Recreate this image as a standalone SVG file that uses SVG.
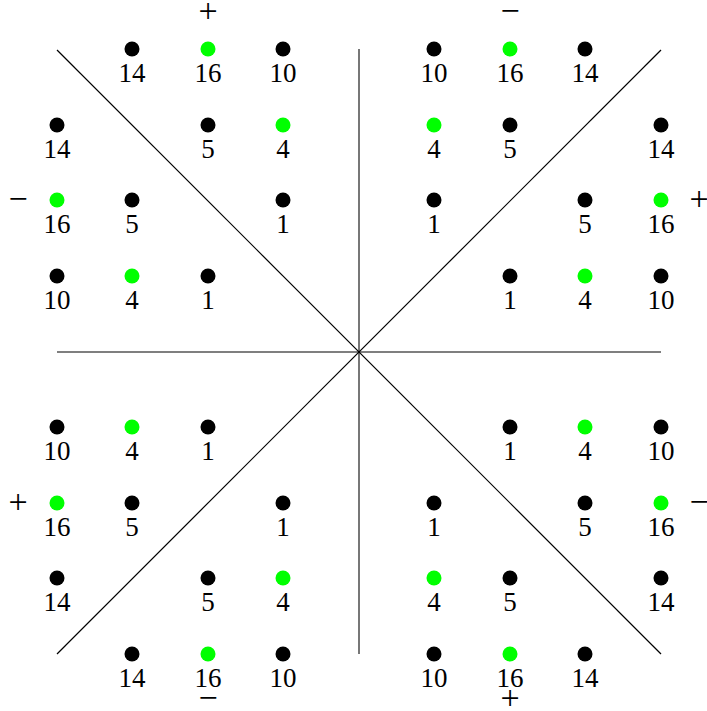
<svg xmlns="http://www.w3.org/2000/svg" width="707" height="711" viewBox="0 0 707 711">
<style>
.b{fill:#000}
.g{fill:#00ff00}
</style>
<g id="connectors" stroke="#000" stroke-width="1.2" fill="none">
<line x1="359" y1="49" x2="359" y2="654" stroke="#555" stroke-width="1.6"/>
<line x1="57" y1="352" x2="661" y2="352"/>
<line x1="57" y1="50" x2="661" y2="654"/>
<line x1="57" y1="654" x2="661" y2="50"/>
</g>
<g font-family="'Liberation Serif', 'DejaVu Serif', serif" font-size="27" fill="#000" text-anchor="middle">
<g id="signs" font-size="34">
<text x="208" y="22">+</text>
<text x="510" y="22">−</text>
<text x="18" y="210">−</text>
<text x="699" y="210">+</text>
<text x="18" y="513">+</text>
<text x="699" y="513">−</text>
<text x="208" y="709">−</text>
<text x="510" y="709">+</text>
</g>
<g id="n1"><circle class="b" cx="132" cy="49" r="7.5"/><text x="132" y="82">14</text></g>
<g id="n2"><circle class="g" cx="208" cy="49" r="7.5"/><text x="208" y="82">16</text></g>
<g id="n3"><circle class="b" cx="283" cy="49" r="7.5"/><text x="283" y="82">10</text></g>
<g id="n4"><circle class="b" cx="57" cy="125" r="7.5"/><text x="57" y="158">14</text></g>
<g id="n5"><circle class="b" cx="208" cy="125" r="7.5"/><text x="208" y="158">5</text></g>
<g id="n6"><circle class="g" cx="283" cy="125" r="7.5"/><text x="283" y="158">4</text></g>
<g id="n7"><circle class="g" cx="57" cy="200" r="7.5"/><text x="57" y="233">16</text></g>
<g id="n8"><circle class="b" cx="132" cy="200" r="7.5"/><text x="132" y="233">5</text></g>
<g id="n9"><circle class="b" cx="283" cy="200" r="7.5"/><text x="283" y="233">1</text></g>
<g id="n10"><circle class="b" cx="57" cy="276" r="7.5"/><text x="57" y="309">10</text></g>
<g id="n11"><circle class="g" cx="132" cy="276" r="7.5"/><text x="132" y="309">4</text></g>
<g id="n12"><circle class="b" cx="208" cy="276" r="7.5"/><text x="208" y="309">1</text></g>

<g id="n13"><circle class="b" cx="434" cy="49" r="7.5"/><text x="434" y="82">10</text></g>
<g id="n14"><circle class="g" cx="510" cy="49" r="7.5"/><text x="510" y="82">16</text></g>
<g id="n15"><circle class="b" cx="585" cy="49" r="7.5"/><text x="585" y="82">14</text></g>
<g id="n16"><circle class="g" cx="434" cy="125" r="7.5"/><text x="434" y="158">4</text></g>
<g id="n17"><circle class="b" cx="510" cy="125" r="7.5"/><text x="510" y="158">5</text></g>
<g id="n18"><circle class="b" cx="661" cy="125" r="7.5"/><text x="661" y="158">14</text></g>
<g id="n19"><circle class="b" cx="434" cy="200" r="7.5"/><text x="434" y="233">1</text></g>
<g id="n20"><circle class="b" cx="585" cy="200" r="7.5"/><text x="585" y="233">5</text></g>
<g id="n21"><circle class="g" cx="661" cy="200" r="7.5"/><text x="661" y="233">16</text></g>
<g id="n22"><circle class="b" cx="510" cy="276" r="7.5"/><text x="510" y="309">1</text></g>
<g id="n23"><circle class="g" cx="585" cy="276" r="7.5"/><text x="585" y="309">4</text></g>
<g id="n24"><circle class="b" cx="661" cy="276" r="7.5"/><text x="661" y="309">10</text></g>

<g id="n25"><circle class="b" cx="57" cy="427" r="7.5"/><text x="57" y="460">10</text></g>
<g id="n26"><circle class="g" cx="132" cy="427" r="7.5"/><text x="132" y="460">4</text></g>
<g id="n27"><circle class="b" cx="208" cy="427" r="7.5"/><text x="208" y="460">1</text></g>
<g id="n28"><circle class="g" cx="57" cy="503" r="7.5"/><text x="57" y="536">16</text></g>
<g id="n29"><circle class="b" cx="132" cy="503" r="7.5"/><text x="132" y="536">5</text></g>
<g id="n30"><circle class="b" cx="283" cy="503" r="7.5"/><text x="283" y="536">1</text></g>
<g id="n31"><circle class="b" cx="57" cy="578" r="7.5"/><text x="57" y="611">14</text></g>
<g id="n32"><circle class="b" cx="208" cy="578" r="7.5"/><text x="208" y="611">5</text></g>
<g id="n33"><circle class="g" cx="283" cy="578" r="7.5"/><text x="283" y="611">4</text></g>
<g id="n34"><circle class="b" cx="132" cy="654" r="7.5"/><text x="132" y="687">14</text></g>
<g id="n35"><circle class="g" cx="208" cy="654" r="7.5"/><text x="208" y="687">16</text></g>
<g id="n36"><circle class="b" cx="283" cy="654" r="7.5"/><text x="283" y="687">10</text></g>

<g id="n37"><circle class="b" cx="510" cy="427" r="7.5"/><text x="510" y="460">1</text></g>
<g id="n38"><circle class="g" cx="585" cy="427" r="7.5"/><text x="585" y="460">4</text></g>
<g id="n39"><circle class="b" cx="661" cy="427" r="7.5"/><text x="661" y="460">10</text></g>
<g id="n40"><circle class="b" cx="434" cy="503" r="7.5"/><text x="434" y="536">1</text></g>
<g id="n41"><circle class="b" cx="585" cy="503" r="7.5"/><text x="585" y="536">5</text></g>
<g id="n42"><circle class="g" cx="661" cy="503" r="7.5"/><text x="661" y="536">16</text></g>
<g id="n43"><circle class="g" cx="434" cy="578" r="7.5"/><text x="434" y="611">4</text></g>
<g id="n44"><circle class="b" cx="510" cy="578" r="7.5"/><text x="510" y="611">5</text></g>
<g id="n45"><circle class="b" cx="661" cy="578" r="7.5"/><text x="661" y="611">14</text></g>
<g id="n46"><circle class="b" cx="434" cy="654" r="7.5"/><text x="434" y="687">10</text></g>
<g id="n47"><circle class="g" cx="510" cy="654" r="7.5"/><text x="510" y="687">16</text></g>
<g id="n48"><circle class="b" cx="585" cy="654" r="7.5"/><text x="585" y="687">14</text></g>
</g>
</svg>
